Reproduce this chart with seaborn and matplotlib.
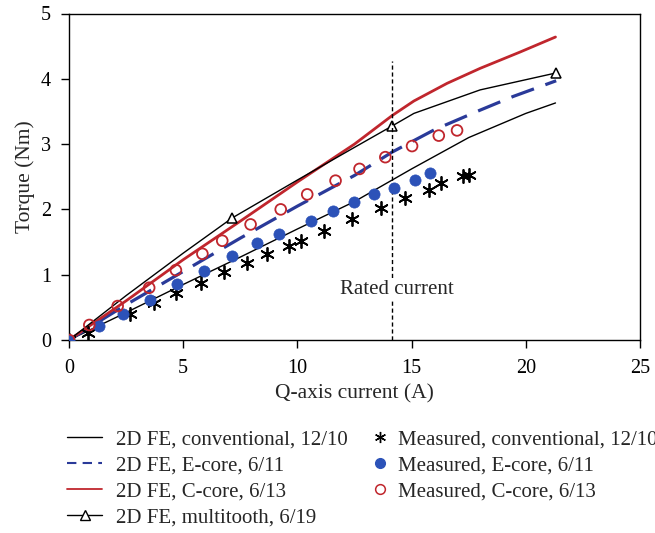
import matplotlib
matplotlib.use("Agg")
import matplotlib.pyplot as plt
from matplotlib.lines import Line2D
import seaborn as sns

# ---- data ----
x_conv_fe = [0, 2.5, 5, 7.5, 10, 12.5, 15, 17.5, 20, 21.3]
y_conv_fe = [0, 0.42, 0.85, 1.27, 1.70, 2.12, 2.62, 3.10, 3.47, 3.63]

x_ecore_fe = [0, 2.5, 5, 7.5, 10, 12.5, 14.16, 16, 18, 19.45, 21.33]
y_ecore_fe = [0, 0.54, 1.05, 1.56, 2.05, 2.52, 2.88, 3.22, 3.52, 3.73, 3.97]

x_ccore_fe = [0, 2.5, 5, 7.5, 10, 12.5, 14.16, 15.1, 16.55, 18, 19.75, 21.3]
y_ccore_fe = [0, 0.60, 1.23, 1.82, 2.42, 3.00, 3.44, 3.66, 3.93, 4.16, 4.41, 4.64]

x_multi_fe = [0, 2.5, 5, 7.15, 10, 12.5, 14.16, 15.1, 16.55, 18, 21.33]
y_multi_fe = [0, 0.68, 1.33, 1.87, 2.45, 2.95, 3.28, 3.47, 3.65, 3.83, 4.09]
multi_marker_idx = [0, 3, 6, 10]

x_conv_meas = [0, 0.85, 2.65, 3.73, 4.68, 5.77, 6.79, 7.81, 8.68, 9.63, 10.14,
               11.16, 12.4, 13.64, 14.73, 15.75, 16.3, 17.25, 17.5]
y_conv_meas = [0, 0.10, 0.40, 0.56, 0.72, 0.88, 1.04, 1.18, 1.31, 1.44, 1.51,
               1.67, 1.86, 2.02, 2.18, 2.30, 2.40, 2.51, 2.53]

x_ecore_meas = [0, 1.33, 2.35, 3.55, 4.75, 5.91, 7.15, 8.24, 9.19, 10.58, 11.55,
                12.47, 13.34, 14.22, 15.17, 15.79]
y_ecore_meas = [0, 0.22, 0.40, 0.62, 0.85, 1.06, 1.28, 1.48, 1.62, 1.82, 1.97,
                2.12, 2.23, 2.33, 2.45, 2.56]

x_ccore_meas = [0, 0.89, 2.13, 3.51, 4.68, 5.84, 6.71, 7.95, 9.27, 10.43, 11.67,
                12.72, 13.85, 15.02, 16.19, 16.99]
y_ccore_meas = [0, 0.23, 0.52, 0.80, 1.07, 1.32, 1.52, 1.77, 2.00, 2.23, 2.44,
                2.62, 2.80, 2.97, 3.13, 3.21]

rated_current = 14.16
rated_top = 4.28

fe_labels = ["2D FE, conventional, 12/10", "2D FE, E-core, 6/11",
             "2D FE, C-core, 6/13", "2D FE, multitooth, 6/19"]
meas_labels = ["Measured, conventional, 12/10", "Measured, E-core, 6/11",
               "Measured, C-core, 6/13"]

# ---- style ----
sns.set_theme(style="ticks")
plt.rcParams["font.family"] = ["Liberation Serif", "DejaVu Serif"]

RED = "#c0262d"
NAVY = "#2a3a99"
BLUE = "#2c52b8"

fig = plt.figure(figsize=(6.55, 5.33), dpi=100)
ax = fig.add_axes([69 / 655, 1 - 340 / 533, (640 - 69) / 655, (340 - 13.5) / 533])

star = (6, 2, 0)

sns.lineplot(x=x_conv_fe, y=y_conv_fe, ax=ax, color="black", lw=1.0,
             sort=False, estimator=None)
sns.lineplot(x=x_ecore_fe, y=y_ecore_fe, ax=ax, color=NAVY, lw=2.3,
             sort=False, estimator=None, linestyle=(0, (7.5, 3.8)))
sns.lineplot(x=x_ccore_fe, y=y_ccore_fe, ax=ax, color=RED, lw=2.0,
             sort=False, estimator=None)
sns.lineplot(x=x_multi_fe, y=y_multi_fe, ax=ax, color="black", lw=1.0,
             sort=False, estimator=None, marker="^", markevery=multi_marker_idx,
             markersize=7.5, markerfacecolor="white", markeredgecolor="black",
             markeredgewidth=1.1)

sns.scatterplot(x=x_conv_meas, y=y_conv_meas, ax=ax, marker=star, s=90,
                color="black", linewidth=1.3, zorder=4)
sns.scatterplot(x=x_ecore_meas, y=y_ecore_meas, ax=ax, marker="o", s=65,
                color=BLUE, edgecolor=BLUE, linewidth=0.5, zorder=4)
sns.scatterplot(x=x_ccore_meas, y=y_ccore_meas, ax=ax, marker="o", s=60,
                facecolor="none", edgecolor=RED, linewidth=1.3, zorder=4)

ax.plot([rated_current, rated_current], [0, rated_top], color="black",
        lw=1.0, linestyle=(0, (3, 2)), zorder=2)
ax.text(rated_current + 0.2, 0.77, "Rated current", fontsize=15,
        ha="center", va="center", zorder=5,
        bbox=dict(facecolor="white", edgecolor="none", pad=1.0))

ax.set_xlim(0, 25)
ax.set_ylim(0, 5)
ax.set_xticks([0, 5, 10, 15, 20, 25])
ax.set_yticks([0, 1, 2, 3, 4, 5])
ax.tick_params(direction="out", length=6, width=1.0, labelsize=14.5,
               colors="black")
ax.tick_params(axis="x", pad=8)
ax.tick_params(axis="y", pad=7)
for sp in ax.spines.values():
    sp.set_visible(True)
    sp.set_color("black")
    sp.set_linewidth(1.0)
ax.set_xlabel("Q-axis current (A)", fontsize=15.5, labelpad=4)
ax.set_ylabel("Torque (Nm)", fontsize=15.5, labelpad=4)
ax.set_facecolor("white")

fe_handles = [
    Line2D([], [], color="black", lw=1.0),
    Line2D([], [], color=NAVY, lw=1.5, linestyle=(0, (4.5, 3))),
    Line2D([], [], color=RED, lw=1.3),
    Line2D([], [], color="black", lw=1.0, marker="^", markersize=6.5,
           markerfacecolor="white", markeredgecolor="black"),
]
meas_handles = [
    Line2D([], [], color="black", lw=0, marker=star, markersize=8,
           markeredgewidth=1.0),
    Line2D([], [], color=BLUE, lw=0, marker="o", markersize=7),
    Line2D([], [], color=RED, lw=0, marker="o", markersize=7,
           markerfacecolor="none", markeredgewidth=1.1),
]
leg1 = fig.legend(fe_handles, fe_labels, loc="upper left",
                  bbox_to_anchor=(67 / 655, 1 - 430 / 533), frameon=False,
                  fontsize=15, handlelength=1.68, handletextpad=0.67,
                  labelspacing=0.3, borderpad=0, borderaxespad=0)
leg2 = fig.legend(meas_handles, meas_labels, loc="upper left",
                  bbox_to_anchor=(370 / 655, 1 - 430 / 533), frameon=False,
                  fontsize=15, handlelength=1.0, handletextpad=0.34,
                  labelspacing=0.3, borderpad=0, borderaxespad=0)

fig.savefig("out.png", dpi=100)
